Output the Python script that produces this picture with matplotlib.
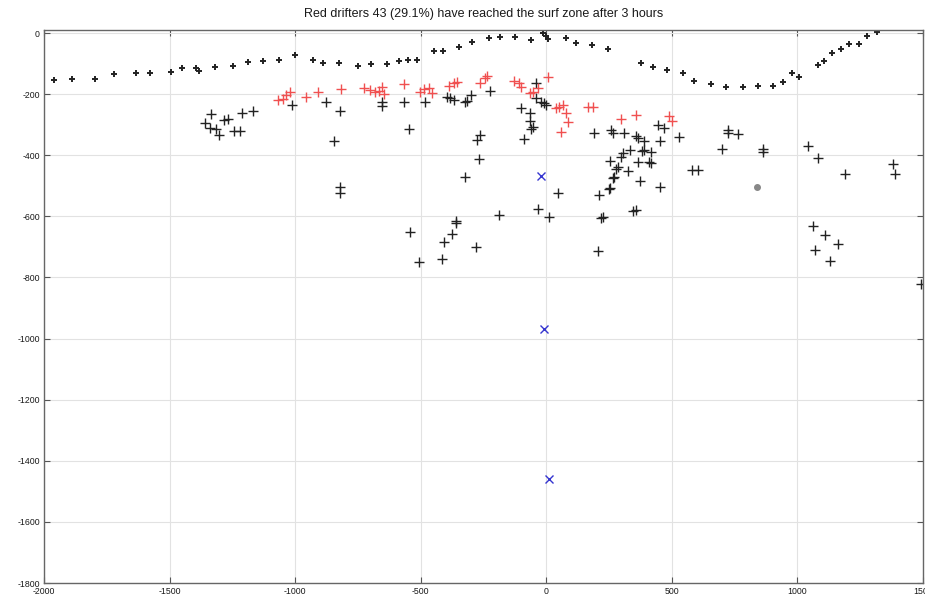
#!/usr/bin/env python3
"""
Drifter positions after 3 hours, surf zone arrivals in red
"""

import matplotlib
matplotlib.use('Agg')
import matplotlib.pyplot as plt

# Shoreline-ish row of drifters (small black markers)
top_x = [-1960, -1889, -1798, -1722, -1635, -1579, -1496, -1452, -1393, -1381,
         -1321, -1246, -1186, -1127, -1063, -1000, -929, -889, -825, -750,
         -698, -635, -587, -552, -516, -448, -413, -349, -294, -230,
         -186, -123, -60, -12, 0, 8, 79, 119, 183, 246,
         377, 425, 480, 544, 587, 655, 714, 782, 841, 901,
         944, 980, 1008, 1083, 1107, 1139, 1175, 1206, 1246, 1278, 1317]
top_y = [-154, -151, -151, -134, -131, -131, -128, -115, -115, -124,
         -111, -108, -95, -92, -88, -72, -88, -98, -98, -108,
         -101, -101, -92, -88, -88, -59, -59, -46, -29, -16,
         -13, -13, -23, 0, -10, -20, -16, -33, -39, -52,
         -98, -111, -121, -131, -157, -167, -177, -177, -173, -173,
         -160, -131, -144, -105, -92, -65, -52, -36, -36, -10, 3]

# Red drifters: reached the surf zone
red_x = [-1067, -1048, -1036, -1020, -956, -909, -817, -726, -702, -683,
         -667, -655, -647, -567, -504, -488, -468, -456, -389, -369,
         -357, -266, -246, -238, -127, -107, -99, -67, -52, -32,
         8, 40, 52, 67, 79, 87, 167, 186, 298, 357, 488, 500, 60]
red_y = [-219, -216, -203, -193, -209, -193, -183, -180, -187, -193,
         -190, -177, -200, -167, -193, -183, -180, -196, -173, -164,
         -160, -164, -147, -141, -157, -164, -177, -196, -193, -180,
         -144, -245, -242, -236, -262, -291, -242, -242, -281, -268, -272, -288, -324]

# Black drifters still offshore
blk_x = [-1337, -1282, -1266, -1210, -1167, -1361, -1341, -1317, -1302, -1242, -1218,
         -1012, -877, -821, -845, -821, -821,
         -655, -655, -567, -484, -548,
         -397, -385, -369, -325, -317, -298, -226,
         -266, -278, -270, -325, -361, -361, -377, -409, -417, -508, -544, -282,
         -190, -32, 12, 48, 210, 250, 270, 218, 206,
         -99, -67, -67, -52, -60, -87, -40, -20, -8, 0, -40,
         190, 258, 266, 310, 357, 365, 389, 452, 444, 468, 528,
         722, 722, 762, 698,
         333, 381, 389, 417, 306, 298, 254, 365, 409, 417, 286, 278, 325, 266, 373, 452, 254,
         579, 603, 861, 861,
         226, 345, 357,
         1040, 1083, 1190, 1380, 1390, 1060, 1070, 1110, 1160, 1130, 1490]
blk_y = [-265, -285, -281, -262, -255, -295, -311, -314, -334, -321, -321,
         -236, -226, -255, -353, -504, -524,
         -226, -240, -226, -226, -314,
         -209, -213, -219, -226, -222, -203, -190,
         -334, -350, -412, -471, -615, -622, -658, -684, -740, -750, -651, -700,
         -596, -576, -602, -524, -530, -511, -471, -605, -714,
         -245, -262, -288, -308, -314, -347, -213, -226, -229, -236, -164,
         -327, -317, -327, -327, -337, -344, -353, -353, -301, -311, -340,
         -317, -327, -330, -380,
         -383, -386, -383, -389, -393, -406, -419, -422, -422, -425, -439, -445, -452, -475, -484, -504, -507,
         -448, -448, -380, -389,
         -602, -583, -579,
         -370, -409, -461, -430, -460, -630, -710, -660, -690, -745, -820]

# Odd grey drifter
grey_x = [837]
grey_y = [-504]

# Release points (blue x)
rel_x = [-20, -8, 12]
rel_y = [-468, -970, -1460]

n_red = len(red_x)
pct = 29.1
title = f'Red drifters {n_red} ({pct}%) have reached the surf zone after 3 hours'

plt.rcParams['font.family'] = ['Liberation Sans', 'DejaVu Sans']
plt.rcParams['axes.unicode_minus'] = False

fig = plt.figure(figsize=(9.25, 6.0), dpi=100)
ax = fig.add_axes([0.0476, 0.0283, 0.9503, 0.9217])

ax.plot(top_x, top_y, linestyle='none', marker='+', color='#222222',
        markersize=4, markeredgewidth=1.4)
ax.plot(blk_x, blk_y, linestyle='none', marker='+', color='#222222',
        markersize=7, markeredgewidth=1.0)
ax.plot(red_x, red_y, linestyle='none', marker='+', color='#f05050',
        markersize=7, markeredgewidth=1.0)
ax.plot(grey_x, grey_y, linestyle='none', marker='o', color='#888888',
        markersize=4)
ax.plot(rel_x, rel_y, linestyle='none', marker='x', color='#3535d0',
        markersize=6, markeredgewidth=1.0)

ax.set_xlim(-2000, 1500)
ax.set_ylim(-1800, 10)
ax.set_xticks(range(-2000, 1501, 500))
ax.set_yticks(range(-1800, 1, 200))

ax.grid(True, color='#e2e2e2', linewidth=0.8, linestyle='-')
ax.set_axisbelow(True)
ax.tick_params(direction='in', length=4, width=0.8, colors='#555555',
               labelcolor='#1a1a1a', labelsize=6.3, top=True, right=True, pad=3)
for s in ax.spines.values():
    s.set_color('#666666')
    s.set_linewidth(1.0)

ax.set_title(title, fontsize=9, pad=9, color='#1a1a1a')

plt.savefig('out.png', dpi=100)
